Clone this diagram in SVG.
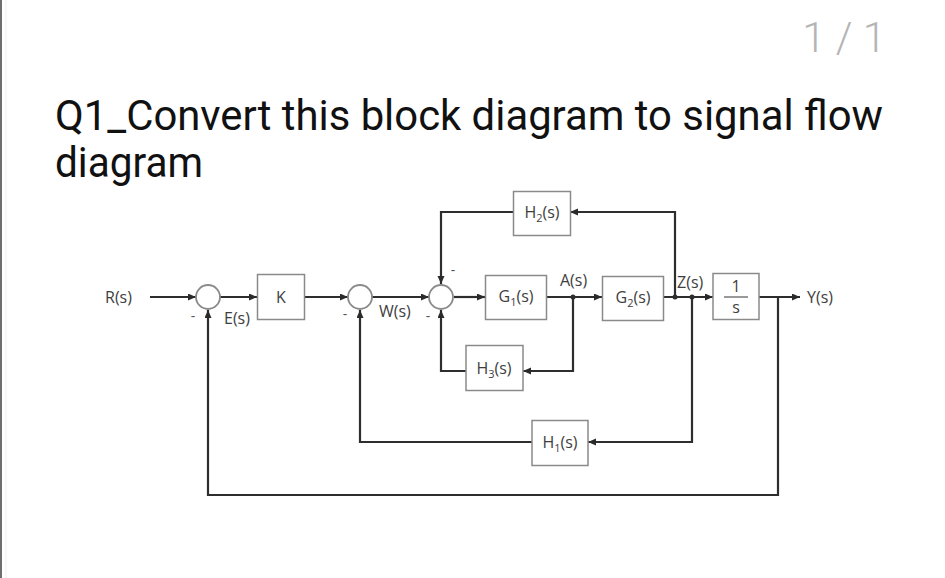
<svg xmlns="http://www.w3.org/2000/svg" width="945" height="578" viewBox="0 0 945 578">
<defs>
<marker id="ah" markerWidth="9" markerHeight="8" refX="8" refY="3.5" orient="auto" markerUnits="userSpaceOnUse">
<path d="M0,0 L8,3.5 L0,7 z" fill="#2a2a2a"/>
</marker>
<style>
.bg{fill:#ffffff}
.box{fill:#ffffff;stroke:#8a8a8a;stroke-width:1.5}
.sum{fill:#ffffff;stroke:#8a8a8a;stroke-width:1.8}
.ln{fill:none;stroke:#2e2e2e;stroke-width:2.2}
.arr{marker-end:url(#ah)}
.lbl{font-family:"Open Sans","Noto Sans",sans-serif;font-size:16px;fill:#3e3e3e}
.sub{font-size:11px}
.sign{font-family:"Open Sans","Noto Sans",sans-serif;font-size:14px;fill:#555555}
.title{font-family:Roboto,"Noto Sans",sans-serif;font-size:42px;fill:#111111}
.page{font-family:Roboto,"Noto Sans",sans-serif;font-size:42px;font-weight:300;fill:#b4b4b4}
.dot{fill:#2e2e2e}
</style>
</defs>
<rect class="bg" x="0" y="0" width="945" height="578"/>
<line x1="1" y1="0" x2="1" y2="578" stroke="#6e6e6e" stroke-width="2"/>
<line x1="6" y1="0" x2="6" y2="578" stroke="#efefef" stroke-width="1"/>

<g id="header">
<text class="page" x="886" y="52" text-anchor="end">1 / 1</text>
<text class="title" x="55" y="130" textLength="828" lengthAdjust="spacingAndGlyphs">Q1_Convert this block diagram to signal flow</text>
<text class="title" x="55" y="177" textLength="148" lengthAdjust="spacingAndGlyphs">diagram</text>
</g>

<g id="connectors">
<line class="ln arr" x1="150" y1="297" x2="196" y2="297"/>
<line class="ln arr" x1="220" y1="297" x2="257" y2="297"/>
<line class="ln arr" x1="305" y1="297" x2="348" y2="297"/>
<line class="ln arr" x1="372" y1="297" x2="429" y2="297"/>
<line class="ln arr" x1="454" y1="297" x2="485" y2="297"/>
<line class="ln arr" x1="546" y1="297" x2="602" y2="297"/>
<line class="ln arr" x1="663" y1="297" x2="713" y2="297"/>
<line class="ln arr" x1="759" y1="297" x2="800" y2="297"/>
<polyline class="ln arr" points="675,297 675,212 570,212"/>
<polyline class="ln arr" points="513,212 441,212 441,284"/>
<polyline class="ln arr" points="573,297 573,371 523,371"/>
<polyline class="ln arr" points="466,371 441,371 441,310"/>
<polyline class="ln arr" points="692,297 692,442 588,442"/>
<polyline class="ln arr" points="532,442 360,442 360,310"/>
<polyline class="ln arr" points="778,297 778,495 208,495 208,310"/>
<circle class="dot" cx="573" cy="297" r="2.5"/>
<circle class="dot" cx="675" cy="297" r="2.5"/>
<circle class="dot" cx="692" cy="297" r="2.5"/>
</g>

<g id="R">
<text class="lbl" x="105" y="303">R(s)</text>
</g>
<g id="sum1">
<circle class="sum" cx="208" cy="297" r="12"/>
<text class="sign" x="193" y="321" text-anchor="middle">-</text>
<text class="lbl" x="224" y="324">E(s)</text>
</g>
<g id="K">
<rect class="box" x="257.5" y="274.5" width="47" height="45"/>
<text class="lbl" x="281" y="303" text-anchor="middle">K</text>
</g>
<g id="sum2">
<circle class="sum" cx="360" cy="297" r="12"/>
<text class="sign" x="345" y="319" text-anchor="middle">-</text>
<text class="lbl" x="379" y="317">W(s)</text>
</g>
<g id="sum3">
<circle class="sum" cx="441" cy="297" r="12"/>
<text class="sign" x="453" y="275" text-anchor="middle">-</text>
<text class="sign" x="428" y="321" text-anchor="middle">-</text>
</g>
<g id="H2">
<rect class="box" x="513.5" y="191.5" width="57" height="44"/>
<text class="lbl" x="542" y="218" text-anchor="middle">H<tspan class="sub" dy="4">2</tspan><tspan dy="-4">(s)</tspan></text>
</g>
<g id="G1">
<rect class="box" x="485.5" y="275.5" width="61" height="44"/>
<text class="lbl" x="516" y="302" text-anchor="middle">G<tspan class="sub" dy="4">1</tspan><tspan dy="-4">(s)</tspan></text>
</g>
<g id="A">
<text class="lbl" x="560" y="286">A(s)</text>
</g>
<g id="G2">
<rect class="box" x="602.5" y="276.5" width="61" height="44"/>
<text class="lbl" x="633" y="303" text-anchor="middle">G<tspan class="sub" dy="4">2</tspan><tspan dy="-4">(s)</tspan></text>
</g>
<g id="Z">
<text class="lbl" x="677" y="288">Z(s)</text>
</g>
<g id="integrator">
<rect class="box" x="713" y="273.5" width="46" height="46"/>
<text class="lbl" x="736" y="292" text-anchor="middle" font-size="14">1</text>
<line x1="724" y1="297" x2="748" y2="297" stroke="#555555" stroke-width="1.2"/>
<text class="lbl" x="736" y="313" text-anchor="middle" font-size="14">s</text>
</g>
<g id="Y">
<text class="lbl" x="807" y="303">Y(s)</text>
</g>
<g id="H3">
<rect class="box" x="466" y="345.5" width="57" height="45"/>
<text class="lbl" x="494" y="374" text-anchor="middle">H<tspan class="sub" dy="4">3</tspan><tspan dy="-4">(s)</tspan></text>
</g>
<g id="H1">
<rect class="box" x="532" y="420.5" width="56" height="45"/>
<text class="lbl" x="560" y="448" text-anchor="middle">H<tspan class="sub" dy="4">1</tspan><tspan dy="-4">(s)</tspan></text>
</g>
</svg>
